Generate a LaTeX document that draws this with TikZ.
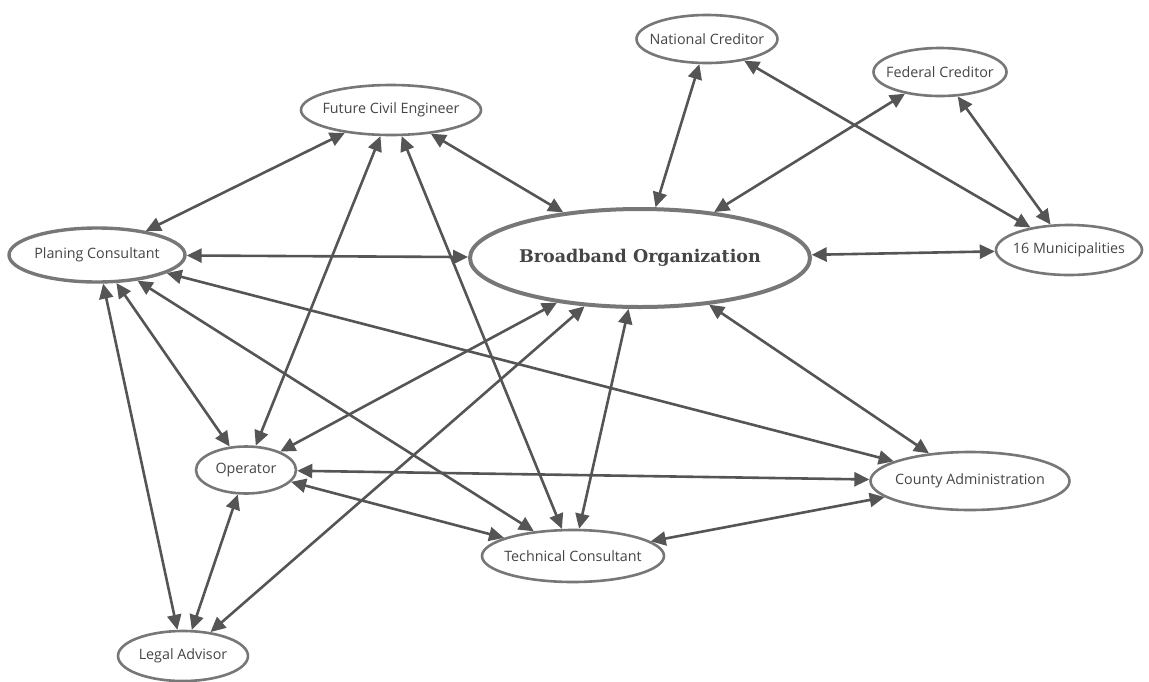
\documentclass[tikz,border=0pt]{standalone}
\usepackage{fontspec}
\setmainfont{Open Sans}
\newfontfamily\titlefont{DejaVu Serif}
\usetikzlibrary{shapes.geometric,arrows.meta}
\definecolor{edgegray}{HTML}{555555}
\definecolor{rimgray}{HTML}{777777}
\definecolor{labelgray}{HTML}{454545}
% label set without width, so the ellipse size comes from the style alone
\newcommand\partylabel[1]{\makebox[0pt]{#1}}
\begin{document}
\begin{tikzpicture}[x=1pt,y=-1pt,
  party/.style={ellipse,draw=rimgray,line width=2.6pt,fill=white,inner sep=0pt,
    text=labelgray,font=\fontsize{14.3}{16}\selectfont},
  link/.style={draw=edgegray,line width=2.6pt,
    {Triangle[length=15pt,width=14pt]}-{Triangle[length=15pt,width=14pt]}}]
\useasboundingbox (0,0) rectangle (1149,681);

% stakeholders
\node[party,minimum width=141pt,minimum height=48pt] (nat) at (707,39) {\partylabel{National Creditor}};
\node[party,minimum width=133pt,minimum height=48pt] (fed) at (940,72) {\partylabel{Federal Creditor}};
\node[party,minimum width=180pt,minimum height=50pt] (fce) at (391,110) {\partylabel{Future Civil Engineer}};
\node[party,line width=3.4pt,minimum width=176pt,minimum height=54pt] (plan) at (97,255) {\partylabel{Planing Consultant}};
\node[party,line width=4pt,minimum width=340pt,minimum height=98pt,
  font=\titlefont\bfseries\fontsize{17.5}{20}\selectfont] (bbo) at (640,258) {\partylabel{Broadband Organization}};
\node[party,minimum width=146pt,minimum height=50pt] (mun) at (1069,250) {\partylabel{16 Municipalities}};
\node[party,minimum width=100pt,minimum height=47pt] (op) at (246,470) {\partylabel{Operator}};
\node[party,minimum width=199pt,minimum height=58pt] (county) at (970,481) {\partylabel{County Administration}};
\node[party,minimum width=182pt,minimum height=52pt] (tech) at (573,556) {\partylabel{Technical Consultant}};
\node[party,minimum width=130pt,minimum height=50pt] (legal) at (183,656) {\partylabel{Legal Advisor}};

% relations (all mutual)
\draw[link] (fce) -- (plan);
\draw[link] (fce) -- (op);
\draw[link] (fce) -- (tech);
\draw[link] (fce) -- (bbo);
\draw[link] (nat) -- (bbo);
\draw[link] (nat) -- (mun);
\draw[link] (fed) -- (bbo);
\draw[link] (fed) -- (mun);
\draw[link] (plan) -- (bbo);
\draw[link] (bbo) -- (mun);
\draw[link] (plan) -- (op);
\draw[link] (plan) -- (legal);
\draw[link] (plan) -- (tech);
\draw[link] (plan) -- (county);
\draw[link] (bbo) -- (op);
\draw[link] (bbo) -- (legal);
\draw[link] (bbo) -- (tech);
\draw[link] (bbo) -- (county);
\draw[link] (op) -- (county);
\draw[link] (op) -- (tech);
\draw[link] (op) -- (legal);
\draw[link] (tech) -- (county);
\end{tikzpicture}
\end{document}
